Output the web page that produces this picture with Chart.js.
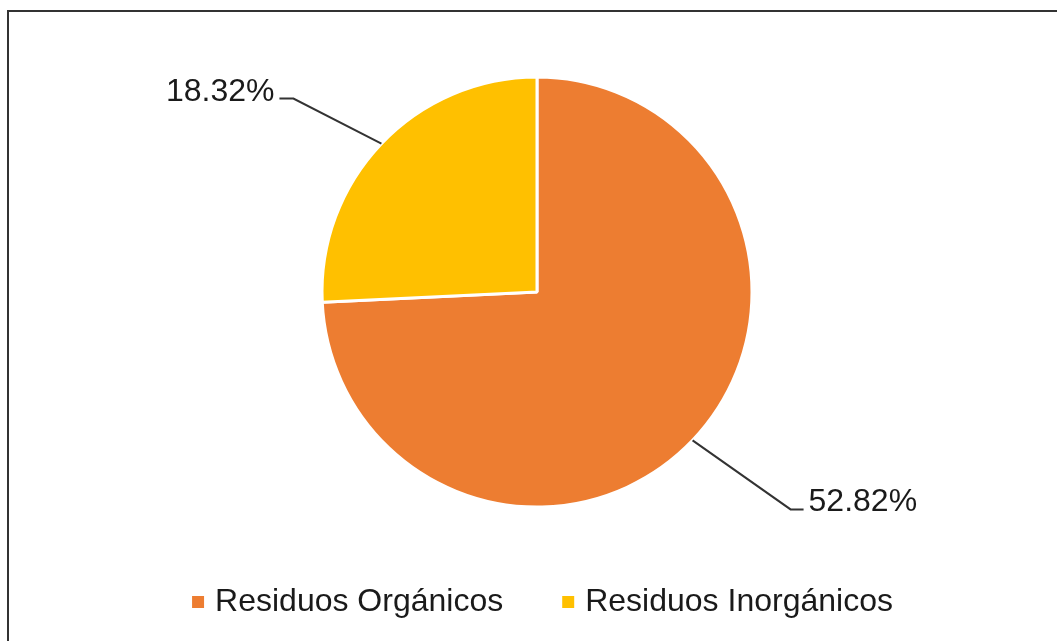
<!DOCTYPE html>
<html>
<head>
<meta charset="utf-8">
<script src="https://cdn.jsdelivr.net/npm/chart.js@4"></script>
<style>
  html, body { margin: 0; padding: 0; background: #fff; overflow: hidden; }
  #wrap { position: relative; width: 1057px; height: 641px; }
  #frame { position: absolute; left: 7px; top: 10px; width: 1100px; height: 700px; border: 2px solid #333; box-sizing: border-box; }
  canvas { position: absolute; left: 0; top: 0; }
</style>
</head>
<body>
<div id="wrap">
  <div id="frame"></div>
  <canvas id="pieChart" width="1057" height="641"></canvas>
</div>
<script>
// Data
const categories = ['Residuos Orgánicos', 'Residuos Inorgánicos'];
const values = [52.82, 18.32];
const colors = ['#ED7D31', '#FFC000'];

// Leader line shape per slice: elbow offset from the slice edge, then a short horizontal run
const leaders = [
  { dx: 98, dy: 69, run: 13, side: 1 },
  { dx: -88, dy: -45, run: -14, side: -1 }
];

const FONT = '"Liberation Sans", Arial, sans-serif';

// Plugin to draw the percentage labels with leader lines
const leaderLabels = {
  id: 'leaderLabels',
  afterLayout(chart) {
    // legend sits a little right of the pie in the original
    chart.legend.left += 8;
    chart.legend.right += 8;
  },
  afterDatasetsDraw(chart) {
    const ctx = chart.ctx;
    const meta = chart.getDatasetMeta(0);
    ctx.save();
    ctx.font = '32px ' + FONT;
    ctx.fillStyle = '#1a1a1a';
    ctx.strokeStyle = '#333';
    ctx.lineWidth = 2;
    meta.data.forEach((arc, i) => {
      const p = arc.getProps(['x', 'y', 'startAngle', 'endAngle', 'outerRadius']);
      const mid = (p.startAngle + p.endAngle) / 2;
      const ex = p.x + Math.cos(mid) * p.outerRadius;
      const ey = p.y + Math.sin(mid) * p.outerRadius;
      const l = leaders[i];
      const bx = ex + l.dx, by = ey + l.dy;
      const tx = bx + l.run;
      ctx.beginPath();
      ctx.moveTo(ex, ey);
      ctx.lineTo(bx, by);
      ctx.lineTo(tx, by);
      ctx.stroke();
      ctx.textAlign = l.side > 0 ? 'left' : 'right';
      ctx.textBaseline = 'alphabetic';
      ctx.fillText(values[i].toFixed(2) + '%', tx + l.side * 5, by + 2);
    });
    ctx.restore();
  }
};

function renderPieChart() {
  const ctx = document.getElementById('pieChart').getContext('2d');
  new Chart(ctx, {
    type: 'pie',
    data: {
      labels: categories,
      datasets: [{
        data: values,
        backgroundColor: colors,
        borderColor: '#ffffff',
        borderWidth: 3
      }]
    },
    options: {
      responsive: false,
      animation: false,
      radius: 215,
      layout: { padding: { top: 62, bottom: 13, left: 17, right: 0 } },
      plugins: {
        tooltip: { enabled: false },
        legend: {
          position: 'bottom',
          labels: {
            font: { size: 32, family: FONT },
            color: '#1a1a1a',
            usePointStyle: true,
            pointStyle: 'rect',
            boxWidth: 2,
            boxHeight: 12,
            padding: 64,
            generateLabels(chart) {
              const items = Chart.overrides.doughnut.plugins.legend.labels.generateLabels(chart);
              items.forEach(it => { it.lineWidth = 0; it.strokeStyle = it.fillStyle; });
              return items;
            }
          }
        }
      }
    },
    plugins: [leaderLabels]
  });
}

renderPieChart();
</script>
</body>
</html>
